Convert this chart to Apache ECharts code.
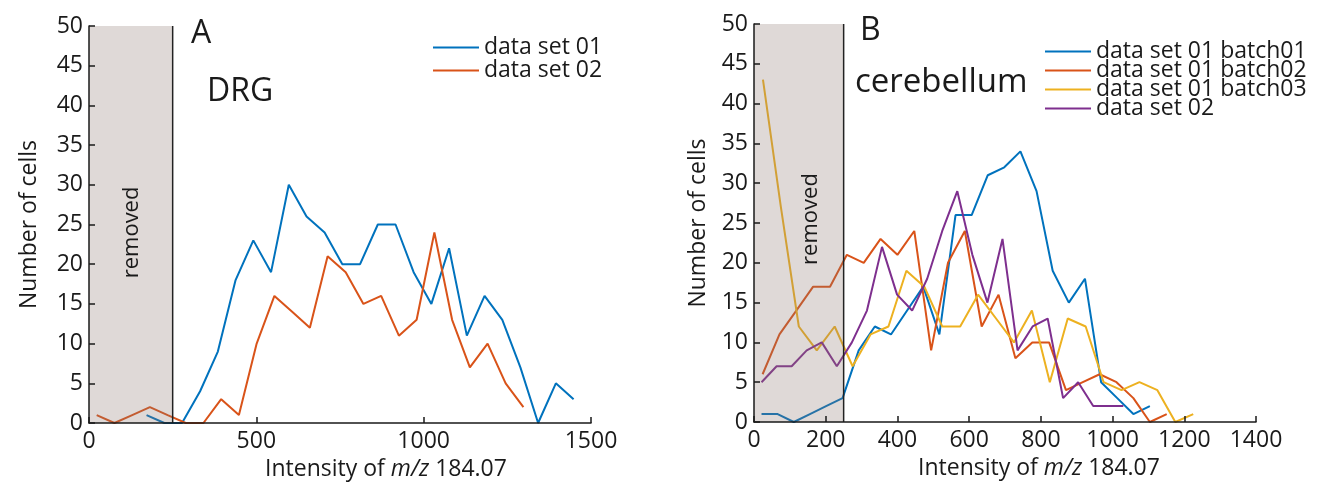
<!DOCTYPE html>
<html>
<head>
<meta charset="utf-8">
<script src="https://cdn.jsdelivr.net/npm/echarts@6/dist/echarts.min.js"></script>
<style>
  html, body { margin: 0; padding: 0; background: #fff; }
  #chart { width: 1319px; height: 488px; }
</style>
</head>
<body>
<div id="chart"></div>
<script>
// Panel A — DRG: bin centres (intensity) and cell counts
const drgSet01X = [172, 225, 278, 332, 385, 438, 491, 544, 597, 650, 704, 757, 810, 863, 916, 970, 1023, 1076, 1129, 1182, 1235, 1289, 1342, 1395, 1448];
const drgSet01Y = [1, 0, 0, 4, 9, 18, 23, 19, 30, 26, 24, 20, 20, 25, 25, 19, 15, 22, 11, 16, 13, 7, 0, 5, 3];
const drgSet02X = [23, 76, 129, 182, 235, 289, 342, 395, 448, 501, 554, 607, 660, 713, 767, 820, 873, 926, 979, 1032, 1085, 1138, 1191, 1245, 1298];
const drgSet02Y = [1, 0, 1, 2, 1, 0, 0, 3, 1, 10, 16, 14, 12, 21, 19, 15, 16, 11, 13, 24, 13, 7, 10, 5, 2];

// Panel B — cerebellum
const cbBatch01X = [21, 66, 111, 156, 201, 247, 292, 337, 382, 427, 472, 517, 562, 607, 652, 698, 743, 788, 833, 878, 923, 968, 1013, 1058, 1104];
const cbBatch01Y = [1, 1, 0, 1, 2, 3, 9, 12, 11, 14, 17, 11, 26, 26, 31, 32, 34, 29, 19, 15, 18, 5, 3, 1, 2];
const cbBatch02X = [24, 71, 118, 165, 212, 259, 306, 353, 400, 447, 494, 541, 588, 635, 682, 729, 776, 823, 870, 917, 964, 1011, 1058, 1104, 1151];
const cbBatch02Y = [6, 11, 14, 17, 17, 21, 20, 23, 21, 24, 9, 20, 24, 12, 16, 8, 10, 10, 4, 5, 6, 5, 3, 0, 1];
const cbBatch03X = [25, 75, 125, 175, 225, 275, 325, 375, 425, 475, 525, 575, 625, 675, 725, 775, 825, 875, 925, 975, 1025, 1075, 1125, 1175, 1225];
const cbBatch03Y = [43, 27, 12, 9, 12, 7, 11, 12, 19, 17, 12, 12, 16, 13, 10, 14, 5, 13, 12, 5, 4, 5, 4, 0, 1];
const cbSet02X = [21, 63, 105, 147, 189, 231, 273, 315, 357, 399, 441, 483, 525, 567, 609, 651, 693, 735, 777, 819, 862, 904, 946, 988, 1030];
const cbSet02Y = [5, 7, 7, 9, 10, 7, 10, 14, 22, 16, 14, 18, 24, 29, 21, 15, 23, 9, 12, 13, 3, 5, 2, 2, 2];

// Legend entries per panel
const legendA = ['data set 01', 'data set 02'];
const legendB = ['data set 01 batch01', 'data set 01 batch02', 'data set 01 batch03', 'data set 02'];

// Excluded low-intensity band: [xFrom, xTo, yFrom, yTo]
const removedBand = [0, 250, 0, 50];
const removedLabelA = [128, 24];
const removedLabelB = [158, 25.5];

// Axis settings
const xTicksA = { min: 0, max: 1500, interval: 500 };
const xTicksB = { min: 0, max: 1400, interval: 200 };
const yTicks = { min: 0, max: 50, interval: 5 };

const FONT = '"Open Sans", "Noto Sans", sans-serif';
const INK = '#1a1a1a';
const C_BLUE = '#0072BD', C_ORANGE = '#D95319', C_YELLOW = '#EDB120', C_PURPLE = '#7E2F8E';

const zip = (xs, ys) => xs.map((x, i) => [x, ys[i]]);
// Series names carry a panel prefix so both panels can list "data set 02"
const keyOf = (panel, label) => panel + ': ' + label;

function lineSeries(panel, label, xs, ys, color, idx) {
  return {
    name: keyOf(panel, label), type: 'line', xAxisIndex: idx, yAxisIndex: idx,
    data: zip(xs, ys), symbol: 'none', smooth: false,
    lineStyle: { color, width: 2 }, itemStyle: { color },
    emphasis: { disabled: true }, z: 2
  };
}

function removedRenderer(labelAt) {
  return function (params, api) {
    const tl = api.coord([api.value(0), api.value(3)]);
    const br = api.coord([api.value(1), api.value(2)]);
    const lp = api.coord(labelAt);
    return {
      type: 'group',
      children: [
        { type: 'rect', shape: { x: tl[0], y: tl[1], width: br[0] - tl[0], height: br[1] - tl[1] },
          style: { fill: 'rgba(140,120,110,0.28)' } },
        { type: 'line', shape: { x1: br[0], y1: tl[1], x2: br[0], y2: br[1] },
          style: { stroke: '#222', lineWidth: 1.5 } },
        { type: 'text', x: lp[0], y: lp[1], rotation: Math.PI / 2,
          style: { text: 'removed', fill: INK, font: '22px ' + FONT, align: 'center', verticalAlign: 'middle' } }
      ]
    };
  };
}

function bandSeries(idx, labelAt) {
  return {
    type: 'custom', xAxisIndex: idx, yAxisIndex: idx,
    data: [removedBand], encode: { x: [0, 1], y: [2, 3] },
    renderItem: removedRenderer(labelAt), silent: true, z: 5
  };
}

function xAxis(idx, ticks, shift) {
  return {
    type: 'value', gridIndex: idx, min: ticks.min, max: ticks.max, interval: ticks.interval,
    name: 'Intensity of {it|m/z} 184.07', nameLocation: 'middle', nameGap: 33,
    nameTextStyle: { fontSize: 23, fontFamily: FONT, color: INK, padding: [0, 0, 0, shift],
      rich: { it: { fontStyle: 'italic', fontSize: 23, fontFamily: FONT, color: INK } } },
    axisLine: { show: true, onZero: false, lineStyle: { color: INK, width: 1.5 } },
    axisTick: { show: true, inside: true, length: 6, lineStyle: { color: INK, width: 1.5 } },
    axisLabel: { fontSize: 23, fontFamily: FONT, color: INK, margin: 7, formatter: v => String(v) },
    splitLine: { show: false }, z: 10
  };
}

function yAxis(idx, gap) {
  return {
    type: 'value', gridIndex: idx, min: yTicks.min, max: yTicks.max, interval: yTicks.interval,
    name: 'Number of cells', nameLocation: 'middle', nameGap: gap,
    nameTextStyle: { fontSize: 23, fontFamily: FONT, color: INK },
    axisLine: { show: true, onZero: false, lineStyle: { color: INK, width: 1.5 } },
    axisTick: { show: true, inside: true, length: 6, lineStyle: { color: INK, width: 1.5 } },
    axisLabel: { fontSize: 23, fontFamily: FONT, color: INK, margin: 6, formatter: v => String(v) },
    splitLine: { show: false }, z: 10
  };
}

function legend(panel, labels, left, top, gap) {
  return {
    data: labels.map(l => keyOf(panel, l)),
    formatter: name => name.slice(panel.length + 2),
    orient: 'vertical', left, top, itemGap: gap, padding: 0,
    icon: 'rect', itemWidth: 46, itemHeight: 2, selectedMode: false,
    textStyle: { fontSize: 23, fontFamily: FONT, color: INK, lineHeight: 23 }
  };
}

const chart = echarts.init(document.getElementById('chart'), null, { renderer: 'canvas' });
chart.setOption({
  animation: false,
  backgroundColor: '#fff',
  grid: [
    { left: 89, top: 26, width: 502, height: 397 },
    { left: 754, top: 24, width: 502, height: 398 }
  ],
  xAxis: [xAxis(0, xTicksA, 92), xAxis(1, xTicksB, 68)],
  yAxis: [yAxis(0, 48), yAxis(1, 44)],
  legend: [
    legend('DRG', legendA, 433, 36, 0),
    legend('cerebellum', legendB, 1045, 40, -4)
  ],
  graphic: [
    { type: 'text', left: 191, top: 18, style: { text: 'A', font: '32px ' + FONT, fill: INK } },
    { type: 'text', left: 207, top: 76, style: { text: 'DRG', font: '32px ' + FONT, fill: INK } },
    { type: 'text', left: 860, top: 15, style: { text: 'B', font: '32px ' + FONT, fill: INK } },
    { type: 'text', left: 855, top: 66, style: { text: 'cerebellum', font: '33px ' + FONT, fill: INK } }
  ],
  series: [
    lineSeries('DRG', legendA[0], drgSet01X, drgSet01Y, C_BLUE, 0),
    lineSeries('DRG', legendA[1], drgSet02X, drgSet02Y, C_ORANGE, 0),
    bandSeries(0, removedLabelA),
    lineSeries('cerebellum', legendB[0], cbBatch01X, cbBatch01Y, C_BLUE, 1),
    lineSeries('cerebellum', legendB[1], cbBatch02X, cbBatch02Y, C_ORANGE, 1),
    lineSeries('cerebellum', legendB[2], cbBatch03X, cbBatch03Y, C_YELLOW, 1),
    lineSeries('cerebellum', legendB[3], cbSet02X, cbSet02Y, C_PURPLE, 1),
    bandSeries(1, removedLabelB)
  ]
});
</script>
</body>
</html>
